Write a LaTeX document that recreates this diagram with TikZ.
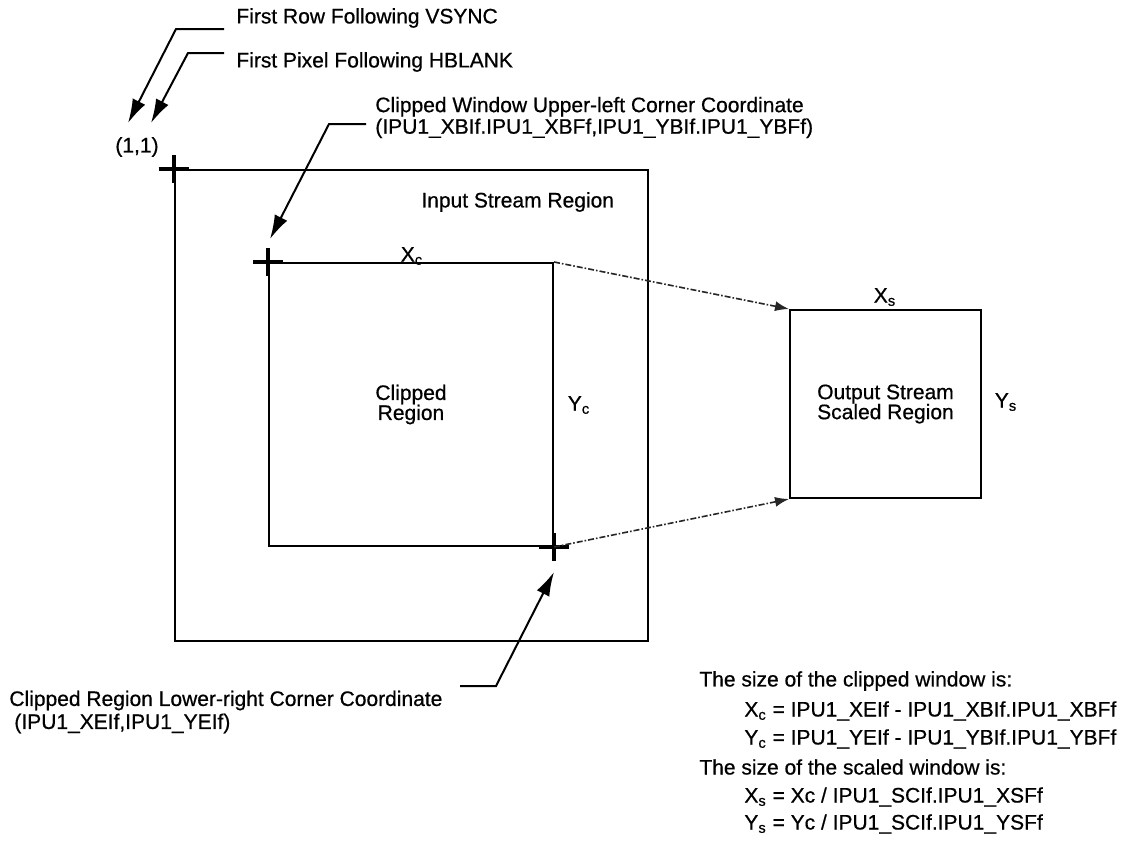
\documentclass[tikz,border=0pt]{standalone}
\usepackage{fontspec}
\setmainfont{Liberation Sans}[FakeBold=0.6]
\usetikzlibrary{arrows.meta,calc}
\begin{document}
\begin{tikzpicture}[x=0.5pt,y=-0.5pt,
  lbl/.style={inner sep=0pt, font=\fontsize{10.5pt}{9.5pt}\selectfont},
  region/.style={draw, line width=1pt, inner sep=0pt, align=center, font=\fontsize{10.5pt}{10pt}\selectfont},
  lead/.style={line width=1pt, -{Latex[length=12pt,width=7pt]}},
  mapto/.style={line width=0.8pt, draw=black!85, dash pattern=on 3pt off 1pt on 0.8pt off 1pt, -{Latex[length=7pt,width=5pt]}},
  plusmark/.style={line width=2pt}
]
\useasboundingbox (0,0) rectangle (1128,847);
% boxes
\node[region, minimum width=236.75pt, minimum height=235.5pt] (outer) at (411.25,405.5) {};
\node[region, minimum width=142pt, minimum height=141.5pt] (inner) at (411,404.5) {Clipped\\Region};
\node[region, minimum width=95.5pt, minimum height=94pt] (output) at (885.5,404) {Output Stream\\Scaled Region};
% corner marks
\foreach \c in {outer.north west, inner.north west, inner.south east}
  \draw[plusmark] (\c) +(-15,0) -- +(15,0) +(0,-14) -- +(0,14);
% mapping connectors
\draw[mapto] (inner.north east) -- (output.north west);
\draw[mapto] (inner.south east) -- (output.south west);
% labels
\node[lbl, anchor=west] (vsync) at (236,18) {First Row Following VSYNC};
\node[lbl, anchor=west] (hblank) at (236,62) {First Pixel Following HBLANK};
\node[lbl] (one) at (137,147) {(1,1)};
\node[lbl, anchor=west, align=left] (ulc) at (375,117.5) {Clipped Window Upper-left Corner Coordinate\\(IPU1\_XBIf.IPU1\_XBFf,IPU1\_YBIf.IPU1\_YBFf)};
\node[lbl, anchor=west] (isr) at (421,202) {Input Stream Region};
\node[lbl] (xc) at (412,256) {X\textsubscript{c}};
\node[lbl] (yc) at (579,405) {Y\textsubscript{c}};
\node[lbl] (xs) at (885,297) {X\textsubscript{s}};
\node[lbl] (ys) at (1006,402) {Y\textsubscript{s}};
\node[lbl, anchor=west, align=left, font=\fontsize{10.5pt}{11.5pt}\selectfont] (lrc) at (9,712) {Clipped Region Lower-right Corner Coordinate\\\hspace{2.5pt}(IPU1\_XEIf,IPU1\_YEIf)};
% formulas
\node[lbl, anchor=west] (f1) at (699,681) {The size of the clipped window is:};
\node[lbl, anchor=west] (f2) at (744,711) {X\textsubscript{c} = IPU1\_XEIf - IPU1\_XBIf.IPU1\_XBFf};
\node[lbl, anchor=west] (f3) at (744,739) {Y\textsubscript{c} = IPU1\_YEIf - IPU1\_YBIf.IPU1\_YBFf};
\node[lbl, anchor=west] (f4) at (699,767) {The size of the scaled window is:};
\node[lbl, anchor=west] (f5) at (744,797) {X\textsubscript{s} = Xc / IPU1\_SCIf.IPU1\_XSFf};
\node[lbl, anchor=west] (f6) at (744,824) {Y\textsubscript{s} = Yc / IPU1\_SCIf.IPU1\_YSFf};
% leader coordinates
\coordinate (vsA) at (224,29);  \coordinate (vsB) at (176,29);  \coordinate (vsT) at (128,123);
\coordinate (hbA) at (224,53);  \coordinate (hbB) at (188,53);  \coordinate (hbT) at (151,123);
\coordinate (ulA) at (366,124); \coordinate (ulB) at (329,124); \coordinate (ulT) at (270,239);
\coordinate (lrA) at (460,686); \coordinate (lrB) at (496,686); \coordinate (lrT) at (554,572);
\draw[lead] (vsA) -- (vsB) -- (vsT);
\draw[lead] (hbA) -- (hbB) -- (hbT);
\draw[lead] (ulA) -- (ulB) -- (ulT);
\draw[lead] (lrA) -- (lrB) -- (lrT);
\end{tikzpicture}
\end{document}
